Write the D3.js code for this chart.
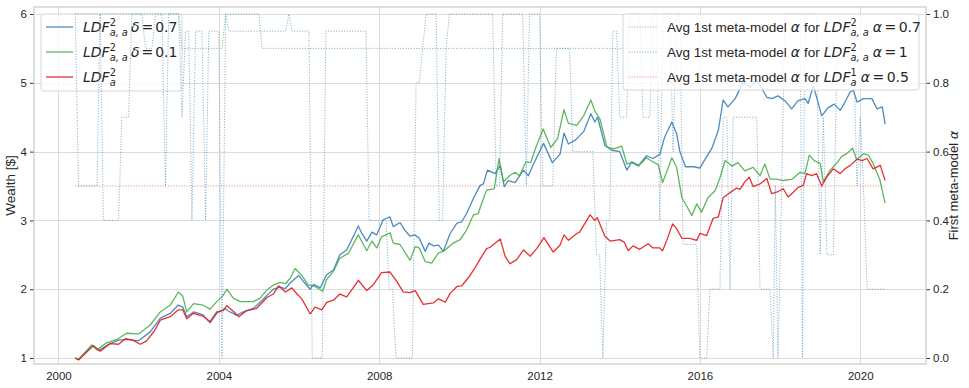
<!DOCTYPE html>
<html>
<head>
<meta charset="utf-8">
<script src="https://cdn.jsdelivr.net/npm/d3@7"></script>
<style>
  body { margin: 0; background: #fff; }
  svg { display: block; }
</style>
</head>
<body>
<svg width="969" height="388"></svg>
<script>
// wealth of each strategy, [year, $]
const wealthDelta07 = [[2000.42,1.0],[2000.5,0.98],[2000.87,1.18],[2001.0,1.11],[2001.29,1.21],[2001.5,1.26],[2001.7,1.27],[2002.0,1.25],[2002.29,1.38],[2002.54,1.58],[2002.79,1.65],[2002.99,1.77],[2003.1,1.74],[2003.2,1.6],[2003.37,1.67],[2003.6,1.63],[2003.78,1.51],[2003.95,1.65],[2004.15,1.72],[2004.28,1.67],[2004.45,1.62],[2004.61,1.67],[2004.86,1.72],[2005.03,1.81],[2005.2,1.91],[2005.36,2.0],[2005.53,2.03],[2005.66,2.01],[2005.78,2.09],[2005.99,2.2],[2006.1,2.12],[2006.28,2.0],[2006.36,2.07],[2006.53,2.02],[2006.69,2.21],[2006.86,2.28],[2007.02,2.5],[2007.19,2.57],[2007.48,2.92],[2007.56,2.82],[2007.69,2.7],[2007.82,2.83],[2007.94,2.79],[2008.1,3.01],[2008.27,3.05],[2008.35,2.91],[2008.52,2.97],[2008.64,2.86],[2008.77,2.77],[2008.89,2.79],[2009.0,2.74],[2009.15,2.55],[2009.24,2.67],[2009.36,2.63],[2009.48,2.64],[2009.6,2.55],[2009.77,2.81],[2009.94,2.96],[2010.06,2.98],[2010.18,3.1],[2010.35,3.32],[2010.52,3.51],[2010.6,3.53],[2010.7,3.73],[2010.89,3.68],[2011.02,3.8],[2011.12,3.49],[2011.22,3.58],[2011.39,3.55],[2011.6,3.73],[2011.72,3.65],[2011.85,3.82],[2012.1,4.12],[2012.32,3.84],[2012.51,3.96],[2012.61,4.27],[2012.72,4.11],[2012.9,4.17],[2013.1,4.29],[2013.28,4.55],[2013.38,4.43],[2013.45,4.5],[2013.63,4.09],[2013.8,4.02],[2014.0,4.0],[2014.18,3.73],[2014.3,3.85],[2014.47,3.8],[2014.67,3.94],[2014.83,3.9],[2015.0,3.96],[2015.12,4.21],[2015.3,4.43],[2015.42,4.26],[2015.5,4.0],[2015.64,3.78],[2015.85,3.78],[2016.0,3.76],[2016.12,3.88],[2016.3,4.05],[2016.46,4.31],[2016.58,4.75],[2016.7,4.65],[2016.88,4.77],[2017.08,5.01],[2017.25,4.94],[2017.42,5.04],[2017.67,4.79],[2017.8,4.77],[2017.95,4.81],[2018.12,4.74],[2018.29,4.62],[2018.45,4.74],[2018.62,4.77],[2018.7,4.7],[2018.83,4.96],[2019.04,4.52],[2019.2,4.64],[2019.35,4.69],[2019.5,4.6],[2019.62,4.72],[2019.75,4.87],[2019.83,4.89],[2019.92,4.72],[2020.08,4.77],[2020.29,4.77],[2020.42,4.62],[2020.55,4.65],[2020.62,4.4]];
const wealthDelta01 = [[2000.42,1.0],[2000.5,0.98],[2000.83,1.19],[2000.96,1.12],[2001.2,1.22],[2001.46,1.27],[2001.7,1.36],[2002.0,1.35],[2002.29,1.48],[2002.54,1.67],[2002.79,1.77],[2002.99,1.96],[2003.1,1.9],[2003.2,1.67],[2003.37,1.79],[2003.6,1.77],[2003.78,1.71],[2003.95,1.82],[2004.11,1.91],[2004.2,2.0],[2004.36,1.87],[2004.53,1.82],[2004.86,1.82],[2005.03,1.87],[2005.2,1.99],[2005.36,2.06],[2005.53,2.1],[2005.66,2.08],[2005.78,2.16],[2005.9,2.3],[2006.07,2.2],[2006.23,2.06],[2006.4,2.04],[2006.59,1.97],[2006.69,2.14],[2006.86,2.26],[2007.02,2.45],[2007.23,2.52],[2007.48,2.79],[2007.56,2.7],[2007.69,2.56],[2007.82,2.7],[2007.94,2.6],[2008.06,2.76],[2008.27,2.82],[2008.35,2.67],[2008.52,2.65],[2008.77,2.42],[2008.9,2.62],[2009.0,2.6],[2009.15,2.4],[2009.31,2.38],[2009.48,2.53],[2009.6,2.55],[2009.85,2.67],[2010.02,2.72],[2010.18,2.86],[2010.35,3.08],[2010.47,3.1],[2010.56,3.25],[2010.68,3.44],[2010.87,3.46],[2010.99,3.9],[2011.1,3.56],[2011.25,3.65],[2011.39,3.7],[2011.5,3.65],[2011.66,3.85],[2011.78,3.84],[2011.9,4.05],[2012.09,4.33],[2012.28,4.06],[2012.45,4.19],[2012.61,4.61],[2012.72,4.41],[2012.93,4.38],[2013.1,4.52],[2013.28,4.75],[2013.38,4.59],[2013.51,4.47],[2013.68,4.07],[2013.85,4.04],[2014.05,4.08],[2014.18,3.82],[2014.3,3.84],[2014.47,3.79],[2014.67,3.91],[2014.8,3.86],[2014.96,3.81],[2015.07,3.55],[2015.18,3.72],[2015.3,3.91],[2015.42,3.77],[2015.55,3.33],[2015.67,3.21],[2015.8,3.07],[2015.92,3.24],[2016.04,3.12],[2016.2,3.33],[2016.38,3.43],[2016.5,3.62],[2016.63,3.87],[2016.8,3.79],[2016.95,3.84],[2017.12,3.72],[2017.33,3.77],[2017.5,3.65],[2017.62,3.82],[2017.75,3.6],[2017.92,3.6],[2018.08,3.58],[2018.3,3.6],[2018.5,3.7],[2018.62,3.68],[2018.73,3.95],[2018.85,3.87],[2019.0,3.83],[2019.08,3.56],[2019.25,3.73],[2019.41,3.83],[2019.54,3.93],[2019.66,3.97],[2019.81,4.05],[2019.91,3.88],[2020.08,3.97],[2020.2,3.95],[2020.32,3.83],[2020.49,3.59],[2020.62,3.25]];
const wealthLdfA = [[2000.42,1.0],[2000.5,0.97],[2000.87,1.18],[2001.04,1.1],[2001.29,1.21],[2001.5,1.2],[2001.67,1.28],[2001.85,1.26],[2002.04,1.2],[2002.2,1.25],[2002.4,1.4],[2002.54,1.55],[2002.79,1.6],[2002.99,1.7],[2003.1,1.7],[2003.2,1.57],[2003.37,1.65],[2003.6,1.61],[2003.78,1.53],[2003.95,1.67],[2004.11,1.69],[2004.2,1.76],[2004.36,1.68],[2004.5,1.6],[2004.7,1.69],[2004.94,1.72],[2005.2,1.88],[2005.36,1.93],[2005.49,2.05],[2005.66,1.96],[2005.82,2.02],[2005.95,1.93],[2006.07,1.86],[2006.28,1.64],[2006.4,1.74],[2006.57,1.7],[2006.69,1.81],[2006.86,1.84],[2007.02,1.93],[2007.19,1.89],[2007.35,2.02],[2007.48,2.13],[2007.69,1.98],[2007.86,2.07],[2008.06,2.24],[2008.27,2.25],[2008.43,2.12],[2008.6,1.96],[2008.77,1.95],[2008.9,1.98],[2009.1,1.78],[2009.22,1.79],[2009.35,1.8],[2009.48,1.86],[2009.65,1.81],[2009.77,1.94],[2009.94,2.04],[2010.06,2.05],[2010.23,2.17],[2010.39,2.31],[2010.52,2.44],[2010.68,2.59],[2010.77,2.61],[2011.02,2.73],[2011.14,2.48],[2011.26,2.37],[2011.43,2.43],[2011.6,2.57],[2011.77,2.48],[2011.93,2.59],[2012.11,2.75],[2012.34,2.54],[2012.51,2.64],[2012.61,2.79],[2012.72,2.71],[2012.93,2.81],[2013.0,2.83],[2013.26,3.08],[2013.38,3.0],[2013.44,3.04],[2013.63,2.77],[2013.76,2.7],[2014.0,2.72],[2014.12,2.68],[2014.21,2.56],[2014.33,2.63],[2014.5,2.58],[2014.71,2.66],[2014.83,2.6],[2015.0,2.6],[2015.07,2.56],[2015.2,2.75],[2015.32,2.95],[2015.42,2.88],[2015.55,2.74],[2015.75,2.74],[2015.92,2.71],[2016.0,2.81],[2016.17,2.78],[2016.33,3.03],[2016.46,3.05],[2016.58,3.33],[2016.74,3.4],[2016.92,3.47],[2017.0,3.45],[2017.12,3.56],[2017.23,3.63],[2017.33,3.49],[2017.5,3.53],[2017.67,3.61],[2017.79,3.39],[2017.95,3.42],[2018.08,3.46],[2018.2,3.34],[2018.33,3.41],[2018.45,3.48],[2018.58,3.51],[2018.66,3.68],[2018.79,3.65],[2018.91,3.68],[2019.04,3.5],[2019.16,3.63],[2019.33,3.75],[2019.5,3.68],[2019.62,3.75],[2019.75,3.8],[2019.92,3.89],[2020.05,3.87],[2020.17,3.9],[2020.32,3.75],[2020.5,3.8],[2020.62,3.58]];

// avg first meta-model alpha, [year, alpha]
const alphaDelta07 = [[2000.42,1.0],[2000.5,0.5],[2000.96,0.5],[2001.04,1.0],[2001.12,0.4],[2001.5,0.4],[2001.58,0.7],[2001.75,0.7],[2001.83,1.0],[2002.08,1.0],[2002.17,0.9],[2002.33,0.9],[2002.42,1.0],[2002.58,1.0],[2002.67,0.5],[2002.75,1.0],[2003.0,1.0],[2003.08,0.7],[2003.17,0.95],[2003.25,0.95],[2003.33,0.4],[2003.42,0.95],[2003.58,0.95],[2003.67,0.4],[2003.75,0.95],[2004.0,0.95],[2004.08,0.0],[2004.17,1.0],[2004.25,0.95],[2005.67,0.95],[2005.75,1.0],[2005.83,0.95],[2006.25,0.95],[2006.33,0.0],[2006.58,0.0],[2006.67,0.95],[2007.67,0.95],[2007.75,0.4],[2008.17,0.4],[2008.25,0.2],[2008.33,0.2],[2008.42,0.0],[2008.83,0.0],[2008.92,0.8],[2009.0,0.8],[2009.17,1.0],[2009.42,1.0],[2009.5,0.4],[2009.58,0.4],[2009.67,0.9],[2009.75,1.0],[2010.83,1.0],[2010.92,0.5],[2011.0,0.5],[2011.08,1.0],[2011.58,1.0],[2011.67,0.5],[2011.75,1.0],[2012.0,1.0],[2012.08,0.5],[2012.33,0.5],[2012.42,0.9],[2012.75,0.9],[2012.83,0.6],[2013.33,0.6],[2013.42,0.3],[2013.5,0.3],[2013.58,0.0],[2013.67,0.4],[2013.75,0.4],[2013.83,0.95],[2013.92,0.95],[2014.0,0.7],[2014.17,0.7],[2014.25,1.0],[2014.5,1.0],[2014.58,0.7],[2014.75,0.7],[2014.83,1.0],[2014.92,1.0],[2015.0,0.4],[2015.08,1.0],[2015.25,1.0],[2015.33,0.6],[2015.42,1.0],[2015.5,1.0],[2015.58,0.33],[2015.92,0.33],[2016.0,0.0],[2016.17,0.0],[2016.25,0.2],[2016.5,0.2],[2016.58,0.7],[2016.67,0.7],[2016.75,0.2],[2016.83,0.7],[2017.42,0.7],[2017.5,0.2],[2017.75,0.2],[2017.83,0.0],[2017.88,0.5],[2017.95,0.0],[2018.04,0.5],[2018.12,1.0],[2018.5,1.0],[2018.56,0.0],[2018.62,1.0],[2018.9,1.0],[2019.0,0.3],[2019.08,0.7],[2019.17,0.3],[2019.33,0.3],[2019.42,0.9],[2019.83,0.9],[2019.92,0.5],[2020.0,0.7],[2020.08,0.5],[2020.17,0.2],[2020.62,0.2]];
const alphaAlpha1 = [[2000.42,1.0],[2003.0,1.0],[2003.08,0.9],[2004.08,0.9],[2004.17,1.0],[2005.0,1.0],[2005.08,0.9],[2020.62,0.9]];
const alphaLdfA = [[2000.42,0.5],[2020.62,0.5]];

const yearTicks = [2000, 2004, 2008, 2012, 2016, 2020];
const wealthTicks = [1, 2, 3, 4, 5, 6];
const alphaTicks = [0.0, 0.2, 0.4, 0.6, 0.8, 1.0];

const blue = "#377eb8", green = "#4daf4a", red = "#e41a1c";
const sansFont = "'Liberation Sans', Arial, sans-serif";
const mathFont = "'DejaVu Sans', sans-serif";

const svg = d3.select("svg");
const plotL = 34, plotR = 926, plotT = 7, plotB = 364;

const x = d3.scaleLinear().domain([1999.39, 2021.64]).range([plotL, plotR]);
const yL = d3.scaleLinear().domain([0.913, 6.102]).range([plotB, plotT]);
const yR = d3.scaleLinear().domain([-0.0174, 1.0203]).range([plotB, plotT]);

// grid
const grid = svg.append("g").attr("stroke", "#dcdcdc").attr("stroke-width", 1);
grid.selectAll(".gx").data(yearTicks).enter().append("line")
  .attr("x1", d => Math.round(x(d)) + 0.5).attr("x2", d => Math.round(x(d)) + 0.5)
  .attr("y1", plotT).attr("y2", plotB);
grid.selectAll(".gy").data(wealthTicks).enter().append("line")
  .attr("x1", plotL).attr("x2", plotR)
  .attr("y1", d => Math.round(yL(d)) + 0.5).attr("y2", d => Math.round(yL(d)) + 0.5);

// axes
const xAxis = d3.axisBottom(x).tickValues(yearTicks).tickFormat(d3.format("d")).tickSize(0).tickPadding(8);
const yAxisL = d3.axisLeft(yL).tickValues(wealthTicks).tickFormat(d3.format("d")).tickSize(4).tickPadding(3);
const yAxisR = d3.axisRight(yR).tickValues(alphaTicks).tickFormat(d3.format(".1f")).tickSize(4).tickPadding(3);

function styleAxis(g) {
  g.select(".domain").remove();
  g.selectAll(".tick line").attr("stroke", "#333");
  g.selectAll("text").attr("fill", "#262626").attr("font-size", 11.5).attr("font-family", sansFont);
}
svg.append("g").attr("transform", `translate(0,${plotB})`).call(xAxis).call(styleAxis);
svg.append("g").attr("transform", `translate(${plotL},0)`).call(yAxisL).call(styleAxis);
svg.append("g").attr("transform", `translate(${plotR},0)`).call(yAxisR).call(styleAxis);

// spines
svg.append("rect").attr("x", plotL).attr("y", plotT).attr("width", plotR - plotL).attr("height", plotB - plotT)
  .attr("fill", "none").attr("stroke", "#cccccc").attr("stroke-width", 1.25);

// axis labels
svg.append("text").attr("transform", `translate(15,${(plotT + plotB) / 2}) rotate(-90)`)
  .attr("text-anchor", "middle").attr("font-size", 13.5).attr("font-family", sansFont).attr("fill", "#262626")
  .text("Wealth [$]");
const rl = svg.append("text").attr("transform", `translate(958,${(plotT + plotB) / 2}) rotate(-90)`)
  .attr("text-anchor", "middle").attr("font-size", 13).attr("font-family", sansFont).attr("fill", "#262626");
rl.append("tspan").text("First meta-model ");
rl.append("tspan").attr("font-family", mathFont).attr("font-style", "italic").text("α");

// wealth lines
const lineL = d3.line().x(d => x(d[0])).y(d => yL(d[1]));
const lineR = d3.line().x(d => x(d[0])).y(d => yR(d[1]));

[[wealthDelta07, blue], [wealthDelta01, green], [wealthLdfA, red]].forEach(([data, c]) => {
  svg.append("path").datum(data).attr("d", lineL).attr("fill", "none")
    .attr("stroke", c).attr("stroke-width", 1.3).attr("stroke-opacity", 0.9).attr("stroke-linejoin", "round");
});

// draws text made of pieces: plain, math italic, and stacked super/subscripts
const plainSize = 13.5, mathSize = 14;
function richText(g, x0, yb, parts) {
  let cx = x0;
  parts.forEach(p => {
    if (p.gap !== undefined) { cx += p.gap; return; }
    if (p.sup !== undefined) {
      const s = g.append("text").attr("x", cx).attr("y", yb - mathSize * 0.42).attr("font-size", mathSize * 0.7)
        .attr("font-family", mathFont).attr("fill", "#262626").text(p.sup);
      const b = g.append("text").attr("x", cx).attr("y", yb + mathSize * 0.28).attr("font-size", mathSize * 0.7)
        .attr("font-family", mathFont).attr("font-style", "italic").attr("fill", "#262626").text(p.sub);
      cx += Math.max(s.node().getComputedTextLength(), b.node().getComputedTextLength()) + 1;
      return;
    }
    const t = g.append("text").attr("x", cx).attr("y", yb).attr("font-size", p.m ? mathSize : plainSize)
      .attr("font-family", p.m ? mathFont : sansFont)
      .attr("font-style", p.it ? "italic" : "normal").attr("fill", "#262626").text(p.t);
    cx += t.node().getComputedTextLength();
  });
}

function legendBox(x0, y0, w, h) {
  const g = svg.append("g");
  g.append("rect").attr("x", x0).attr("y", y0).attr("width", w).attr("height", h).attr("rx", 3)
    .attr("fill", "#fff").attr("fill-opacity", 0.8).attr("stroke", "#d6d6d6").attr("stroke-width", 1);
  return g;
}

// left legend (belongs to the wealth axes, so drawn below the alpha lines)
const legL = legendBox(41, 14, 141, 77);
const legLItems = [
  [blue, [{t: "LDF", m: 1, it: 1}, {sup: "2", sub: "a, a"}, {gap: 2}, {t: "δ", m: 1, it: 1}, {gap: 2}, {t: "=", m: 1}, {gap: 2}, {t: "0.7", m: 1}]],
  [green, [{t: "LDF", m: 1, it: 1}, {sup: "2", sub: "a, a"}, {gap: 2}, {t: "δ", m: 1, it: 1}, {gap: 2}, {t: "=", m: 1}, {gap: 2}, {t: "0.1", m: 1}]],
  [red, [{t: "LDF", m: 1, it: 1}, {sup: "2", sub: "a"}]]
];
legLItems.forEach(([c, parts], i) => {
  const yy = 27 + i * 25;
  legL.append("line").attr("x1", 46).attr("x2", 73).attr("y1", yy).attr("y2", yy)
    .attr("stroke", c).attr("stroke-width", 1.3).attr("stroke-opacity", 0.9);
  richText(legL, 83, yy + 5, parts);
});

// alpha lines (twin axes, on top)
[[alphaDelta07, blue, 0.65], [alphaAlpha1, green, 0.8], [alphaLdfA, red, 0.55]].forEach(([data, c, o]) => {
  svg.append("path").datum(data).attr("d", lineR).attr("fill", "none")
    .attr("stroke", c).attr("stroke-width", 1).attr("stroke-opacity", o).attr("stroke-dasharray", "1,1.65");
});

// right legend
const legR = legendBox(623, 14, 296, 76);
const avg = [{t: "Avg 1st meta-model"}, {gap: 4}, {t: "α", m: 1, it: 1}, {gap: 4}, {t: "for"}, {gap: 4}, {t: "LDF", m: 1, it: 1}];
const legRItems = [
  [blue, 0.65, avg.concat([{sup: "2", sub: "a, a"}, {gap: 3}, {t: "α", m: 1, it: 1}, {gap: 2.5}, {t: "=", m: 1}, {gap: 2.5}, {t: "0.7", m: 1}])],
  [green, 0.8, avg.concat([{sup: "2", sub: "a, a"}, {gap: 3}, {t: "α", m: 1, it: 1}, {gap: 2.5}, {t: "=", m: 1}, {gap: 2.5}, {t: "1", m: 1}])],
  [red, 0.55, avg.concat([{sup: "1", sub: "a"}, {gap: 3}, {t: "α", m: 1, it: 1}, {gap: 2.5}, {t: "=", m: 1}, {gap: 2.5}, {t: "0.5", m: 1}])]
];
legRItems.forEach(([c, o, parts], i) => {
  const yy = 27 + i * 25;
  legR.append("line").attr("x1", 629).attr("x2", 657).attr("y1", yy).attr("y2", yy)
    .attr("stroke", c).attr("stroke-width", 1).attr("stroke-opacity", o).attr("stroke-dasharray", "1,1.65");
  richText(legR, 667, yy + 5, parts);
});
</script>
</body>
</html>
